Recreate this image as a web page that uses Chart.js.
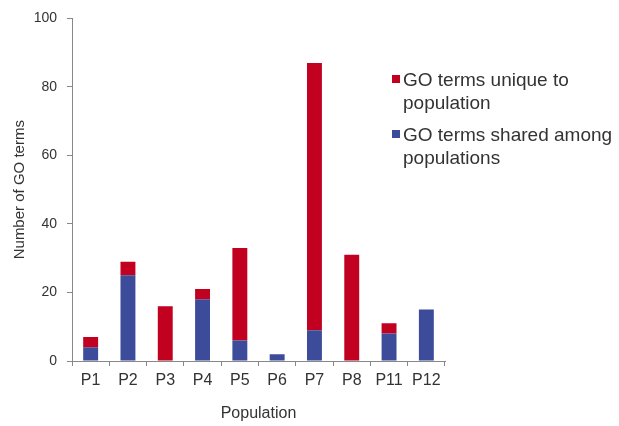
<!DOCTYPE html>
<html>
<head>
<meta charset="utf-8">
<script src="https://cdn.jsdelivr.net/npm/chart.js@4"></script>
<style>
  html, body { margin: 0; padding: 0; background: #fff; }
  #wrap { position: relative; width: 619px; height: 426px; }
  #legend { position: absolute; left: 392px; top: 68px; font-family: "Liberation Sans", Arial, sans-serif; font-size: 19px; line-height: 23px; color: #333; }
  .item { position: relative; padding-left: 11px; margin-bottom: 9px; }
  .sw { position: absolute; left: 0; top: 7px; width: 8px; height: 8px; }
</style>
</head>
<body>
<div id="wrap">
  <canvas id="c" width="619" height="426"></canvas>
  <div id="legend"></div>
</div>
<script>
const categories = ["P1", "P2", "P3", "P4", "P5", "P6", "P7", "P8", "P11", "P12"];
const sharedTerms = [4, 25, 0, 18, 6, 2, 9, 0, 8, 15];
const uniqueTerms = [3, 4, 16, 3, 27, 0, 78, 31, 3, 0];
const seriesNames = ["GO terms unique to population", "GO terms shared among populations"];
const legendLines = [["GO terms unique to", "population"], ["GO terms shared among", "populations"]];
const redColor = "#c2001f";
const blueColor = "#3c4b9a";

const legendEl = document.getElementById("legend");
[[legendLines[0], redColor], [legendLines[1], blueColor]].forEach(([lines, col]) => {
  const d = document.createElement("div");
  d.className = "item";
  const sw = document.createElement("span");
  sw.className = "sw";
  sw.style.background = col;
  d.appendChild(sw);
  lines.forEach((ln, i) => {
    if (i) d.appendChild(document.createElement("br"));
    d.appendChild(document.createTextNode(ln));
  });
  legendEl.appendChild(d);
});

const font = "'Liberation Sans', Arial, sans-serif";
new Chart(document.getElementById("c"), {
  type: "bar",
  data: {
    labels: categories,
    datasets: [
      { label: seriesNames[1], data: sharedTerms, backgroundColor: blueColor, barPercentage: 0.4, categoryPercentage: 1.0 },
      { label: seriesNames[0], data: uniqueTerms, backgroundColor: redColor, barPercentage: 0.4, categoryPercentage: 1.0 }
    ]
  },
  options: {
    responsive: false,
    animation: false,
    devicePixelRatio: 1,
    layout: { padding: { top: 16, right: 174, bottom: 0, left: 0 } },
    plugins: { legend: { display: false }, tooltip: { enabled: false } },
    scales: {
      x: {
        stacked: true,
        offset: true,
        grid: { offset: true, drawOnChartArea: false, tickLength: 5, color: "#888" },
        border: { color: "#888", width: 1 },
        ticks: { font: { family: font, size: 16 }, color: "#333", padding: 5, maxRotation: 0 },
        title: { display: true, text: "Population", font: { family: font, size: 16 }, color: "#333", padding: { top: 0, bottom: 3 } },
        afterFit: (s) => { s.height = 65; }
      },
      y: {
        stacked: true,
        min: 0, max: 100,
        ticks: { stepSize: 20, font: { family: font, size: 14 }, color: "#333", padding: 10 },
        grid: { drawOnChartArea: false, tickLength: 5, color: "#888" },
        border: { color: "#888", width: 1 },
        title: { display: true, text: "Number of GO terms", font: { family: font, size: 15 }, color: "#333", padding: { top: 11, bottom: 0 } },
        afterFit: (s) => { s.width = 72; }
      }
    }
  }
});
</script>
</body>
</html>
